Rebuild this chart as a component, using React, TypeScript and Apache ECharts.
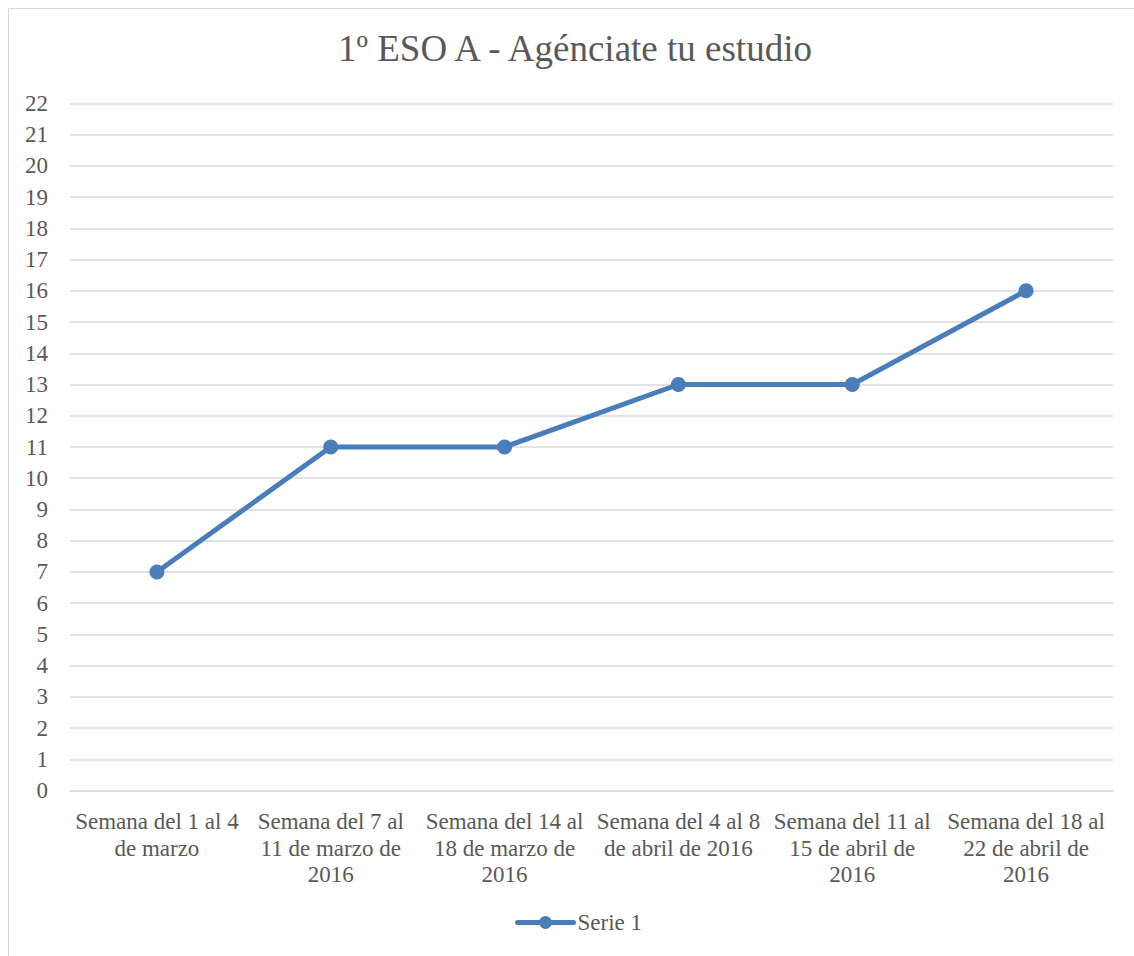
import React, { useEffect, useRef } from "react";
import * as echarts from "echarts";

const titleText = "1º ESO A - Agénciate tu estudio";
const categories = [
  "Semana del 1 al 4\nde marzo",
  "Semana del 7 al\n11 de marzo de\n2016",
  "Semana del 14 al\n18 de marzo de\n2016",
  "Semana del 4 al 8\nde abril de 2016",
  "Semana del 11 al\n15 de abril de\n2016",
  "Semana del 18 al\n22 de abril de\n2016",
];
const seriesName = "Serie 1";
const seriesValues = [7, 11, 11, 13, 13, 16];
const yMin = 0;
const yMax = 22;
const yInterval = 1;

const FONT = "'Liberation Serif', 'Times New Roman', serif";
const TEXT = "#595959";
const GRID = "#d9d9d9";
const LINE = "#4A7EBB";

export default function App() {
  const ref = useRef<HTMLDivElement>(null);
  useEffect(() => {
    if (!ref.current) return;
    const chart = echarts.init(ref.current, undefined, { renderer: "svg" });
    chart.setOption({
      animation: false,
      backgroundColor: "#ffffff",
      textStyle: { fontFamily: FONT, color: TEXT },
      title: {
        text: titleText,
        left: 338,
        top: 26,
        padding: 0,
        textStyle: { fontFamily: FONT, fontSize: 37, fontWeight: "normal", color: TEXT, lineHeight: 44 },
      },
      graphic: [
        {
          type: "rect",
          shape: { x: 8.5, y: 8.5, width: 1300, height: 1300 },
          style: { fill: "none", stroke: GRID, lineWidth: 1 },
          silent: true,
          z: -1,
        },
      ],
      legend: {
        data: [seriesName],
        left: 515,
        top: 911,
        padding: 0,
        itemWidth: 56,
        itemHeight: 16,
        itemGap: 10,
        lineStyle: { width: 5, color: LINE },
        itemStyle: { color: LINE },
        textStyle: { fontFamily: FONT, fontSize: 23, color: TEXT, padding: [0, 0, 0, -1] },
      },
      grid: { left: 70, right: 21, top: 103.3, bottom: 165.3, containLabel: false },
      xAxis: {
        type: "category",
        data: categories,
        boundaryGap: true,
        axisLine: { show: true, lineStyle: { color: GRID, width: 1.5 } },
        axisTick: { show: false },
        axisLabel: {
          interval: 0,
          margin: 18,
          fontFamily: FONT,
          fontSize: 23,
          lineHeight: 26.5,
          color: TEXT,
          align: "center",
        },
        splitLine: { show: false },
      },
      yAxis: {
        type: "value",
        min: yMin,
        max: yMax,
        interval: yInterval,
        axisLine: { show: false },
        axisTick: { show: false },
        axisLabel: { margin: 22, fontFamily: FONT, fontSize: 23, color: TEXT },
        splitLine: { show: true, lineStyle: { color: GRID, width: 1.5 } },
      },
      series: [
        {
          name: seriesName,
          type: "line",
          data: seriesValues,
          symbol: "circle",
          symbolSize: 15,
          itemStyle: { color: LINE },
          lineStyle: { color: LINE, width: 5, cap: "round", join: "round" },
        },
      ],
    });
    return () => chart.dispose();
  }, []);
  return (
    <div
      ref={ref}
      style={{ position: "fixed", left: 0, top: 0, width: 1134, height: 956, background: "#fff" }}
    />
  );
}
